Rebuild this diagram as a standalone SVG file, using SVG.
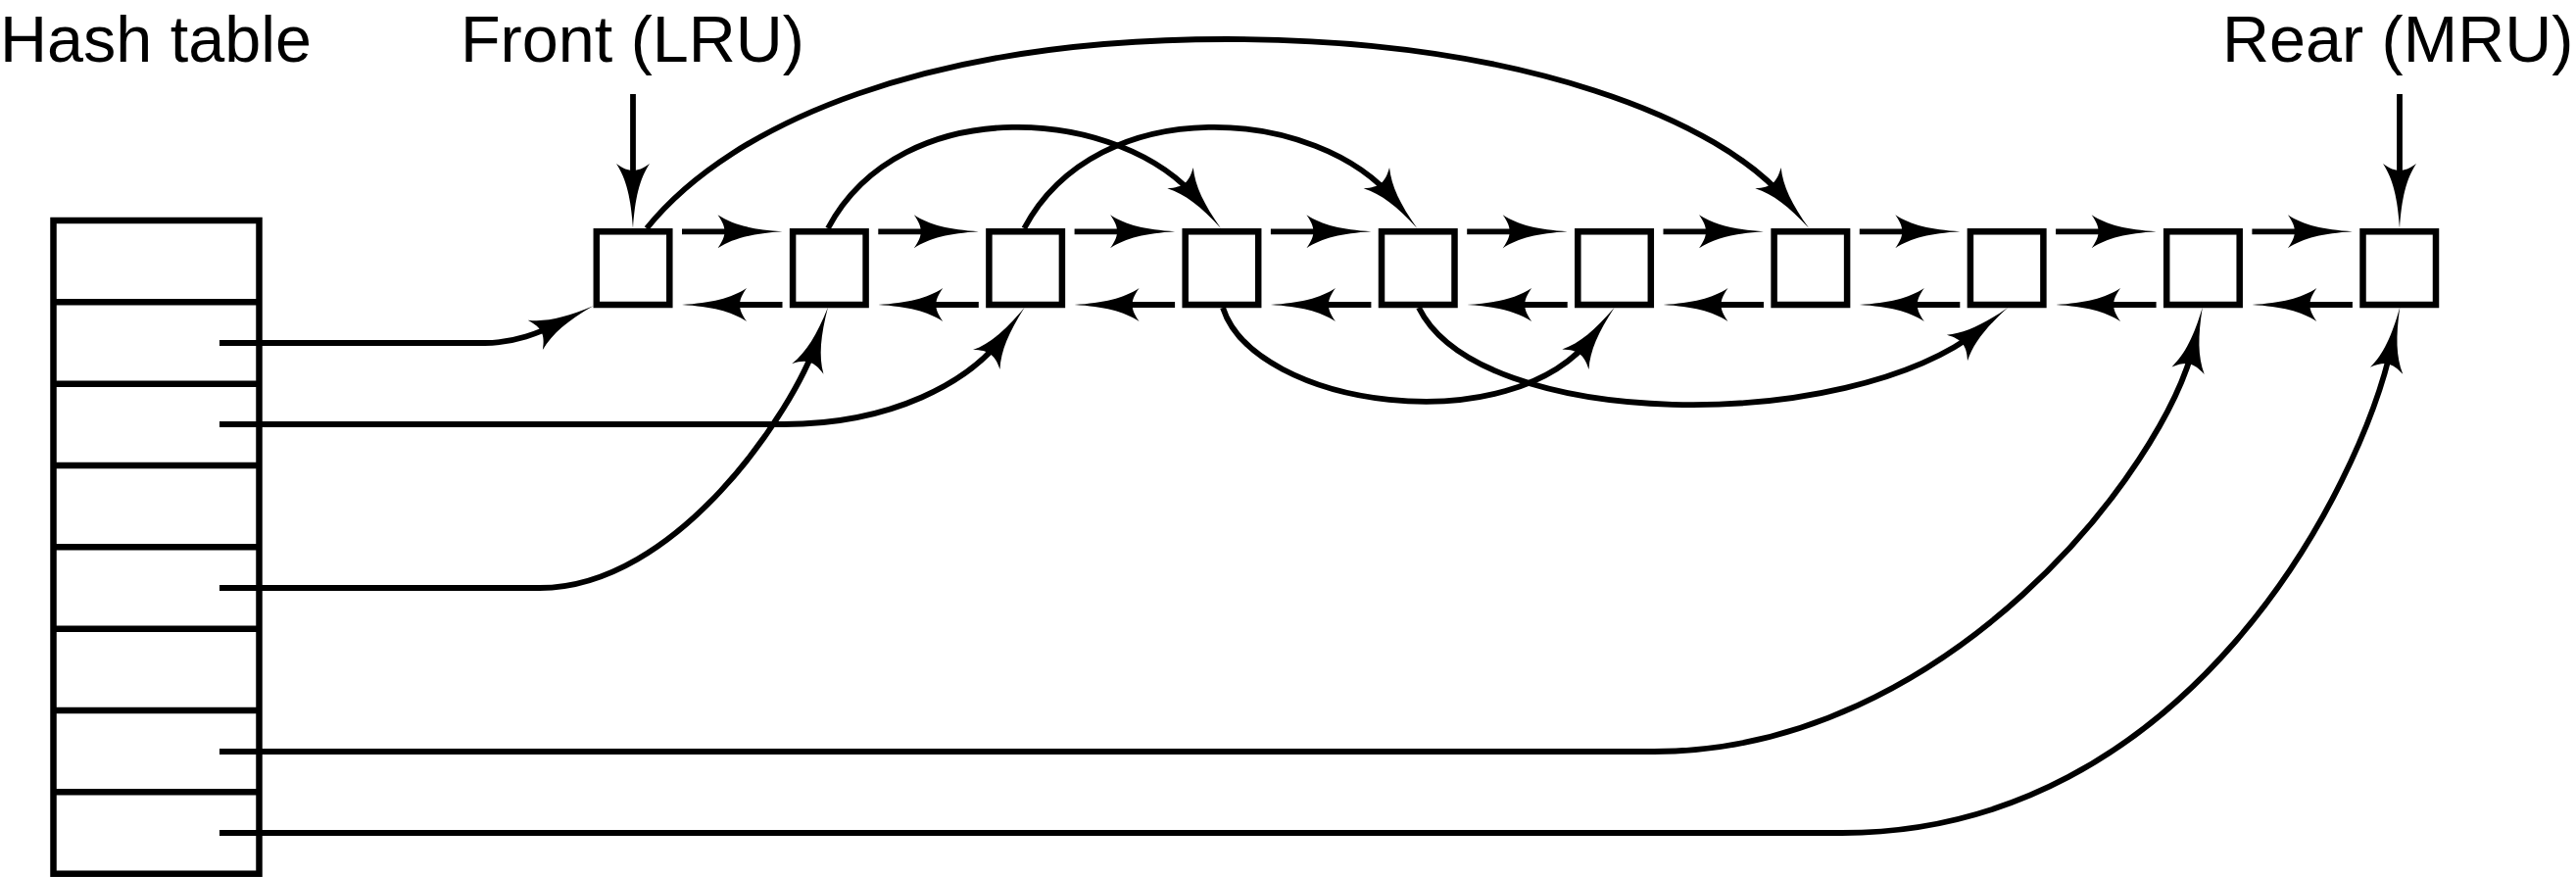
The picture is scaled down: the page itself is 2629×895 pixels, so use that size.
<svg xmlns="http://www.w3.org/2000/svg" width="2629" height="895" viewBox="0 0 2629 895">
<style>
.lbl{font-family:"Liberation Sans",Arial,Helvetica,sans-serif;font-size:66.5px;fill:#000}
.box{fill:#fff;stroke:#000;stroke-width:6.5}
.tbl{fill:none;stroke:#000;stroke-width:6.5}
.c{fill:none;stroke:#000;stroke-width:5.8;stroke-linecap:butt}
.a{marker-end:url(#ah)}
</style>
<defs>
<marker id="ah" markerUnits="userSpaceOnUse" orient="auto" viewBox="-35 -20 75 40" markerWidth="75" markerHeight="40" refX="0" refY="0" overflow="visible">
<path d="M35,0 C5,-2 -15,-6.5 -31,-17 C-26,-10 -24,-5 -24,0 C-24,5 -26,10 -31,17 C-15,6.5 5,2 35,0 Z" fill="#000"/>
</marker>
</defs>
<rect width="2629" height="895" fill="#fff"/>
<g id="labels">
<text class="lbl" x="0" y="63">Hash table</text>
<text class="lbl" x="470" y="63">Front (LRU)</text>
<text class="lbl" x="2268" y="63">Rear (MRU)</text>
</g>
<g id="hash-table">
<rect class="tbl" x="54.5" y="225" width="210" height="666.7"/>
<path class="tbl" d="M54.5,308.3H264.5M54.5,391.7H264.5M54.5,475H264.5M54.5,558.3H264.5M54.5,641.7H264.5M54.5,725H264.5M54.5,808.3H264.5"/>
</g>
<g id="node-1"><rect class="box" x="608.8" y="236.3" width="74.5" height="74.7"/></g>
<g id="node-2"><rect class="box" x="809.1" y="236.3" width="74.5" height="74.7"/></g>
<g id="node-3"><rect class="box" x="1009.4" y="236.3" width="74.5" height="74.7"/></g>
<g id="node-4"><rect class="box" x="1209.7" y="236.3" width="74.5" height="74.7"/></g>
<g id="node-5"><rect class="box" x="1410" y="236.3" width="74.5" height="74.7"/></g>
<g id="node-6"><rect class="box" x="1610.3" y="236.3" width="74.5" height="74.7"/></g>
<g id="node-7"><rect class="box" x="1810.6" y="236.3" width="74.5" height="74.7"/></g>
<g id="node-8"><rect class="box" x="2010.9" y="236.3" width="74.5" height="74.7"/></g>
<g id="node-9"><rect class="box" x="2211.2" y="236.3" width="74.5" height="74.7"/></g>
<g id="node-10"><rect class="box" x="2411.5" y="236.3" width="74.5" height="74.7"/></g>
<g id="connectors">
<path class="c a" d="M646,96V198"/>
<path class="c a" d="M2449,96V198"/>
<path class="c a" d="M696,236.3H763.5"/>
<path class="c a" d="M896.3,236.3H963.8"/>
<path class="c a" d="M1096.6,236.3H1164.1"/>
<path class="c a" d="M1296.9,236.3H1364.4"/>
<path class="c a" d="M1497.2,236.3H1564.7"/>
<path class="c a" d="M1697.5,236.3H1765"/>
<path class="c a" d="M1897.8,236.3H1965.3"/>
<path class="c a" d="M2098.1,236.3H2165.6"/>
<path class="c a" d="M2298.4,236.3H2365.9"/>
<path class="c a" d="M798.5,311H731"/>
<path class="c a" d="M998.8,311H931.3"/>
<path class="c a" d="M1199.1,311H1131.6"/>
<path class="c a" d="M1399.4,311H1331.9"/>
<path class="c a" d="M1599.7,311H1532.2"/>
<path class="c a" d="M1800,311H1732.5"/>
<path class="c a" d="M2000.3,311H1932.8"/>
<path class="c a" d="M2200.6,311H2133.1"/>
<path class="c a" d="M2400.9,311H2333.4"/>
<path class="c a" d="M660,233C748,124 950,40 1252,40C1556,40 1758,124.5 1824,205.7"/>
<path class="c a" d="M845,233C920,92 1145,108 1224,205.7"/>
<path class="c a" d="M1045.3,233C1120.3,92 1345.3,108 1424.3,205.7"/>
<path class="c a" d="M1248,314C1280,415 1542.5,454 1626.5,342"/>
<path class="c a" d="M1448,314C1510,440 1885.2,444.2 2021.7,335.7"/>
<path class="c a" d="M224,350H495C525,350 550,340 574,328"/>
<path class="c a" d="M224,433H800C910,433 990,390 1025,342"/>
<path class="c a" d="M224,600H551C690,600 810,420 834,347"/>
<path class="c a" d="M224,767H1688C1985,767 2210,480 2240,348"/>
<path class="c a" d="M224,850H1880C2230,850 2410,500 2442,348"/>
</g>
</svg>
